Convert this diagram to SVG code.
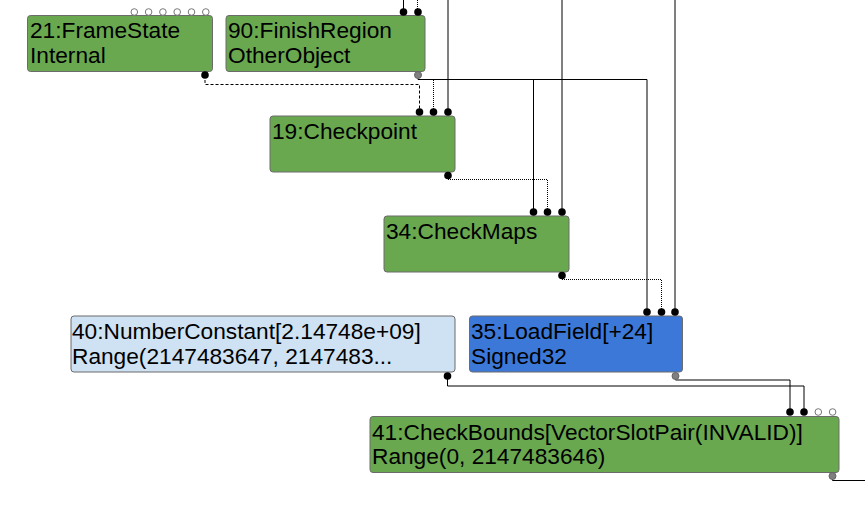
<svg xmlns="http://www.w3.org/2000/svg" width="865" height="506" viewBox="0 0 865 506">
<style>
.box{stroke:#6b6b6b;stroke-width:1}
.g{fill:#6aa84f}
.b{fill:#3c78d8}
.lb{fill:#cfe2f3}
.t{font-family:"Liberation Sans",Arial,sans-serif;font-size:22.7px;fill:#000}
.e{fill:none;stroke:#000;stroke-width:1}
.dash{stroke-dasharray:3,2}
.dot{stroke-dasharray:1,1}
.in{fill:#000}
.open{fill:#fff;stroke:#777;stroke-width:1}
.og{fill:#808080;stroke:#666;stroke-width:1}
</style>
<rect width="865" height="506" fill="#fff"/>
<g id="connectors">
  <path class="e" d="M403.5 0V12"/>
  <path class="e dot" d="M417.5 0V12"/>
  <path class="e" d="M448 0V112"/>
  <path class="e" d="M562 0V212"/>
  <path class="e" d="M675 0V312"/>
  <path class="e dash" d="M205 75V84.5H419.5V112"/>
  <path class="e" d="M418 75V79.5H647V312"/>
  <path class="e" d="M533.5 79.5V212"/>
  <path class="e dot" d="M433.5 80V112"/>
  <path class="e dot" d="M448.5 176V180"/>
  <path class="e dot" d="M448 179.5H547.5"/>
  <path class="e dot" d="M547.5 180V212"/>
  <path class="e dot" d="M562.5 276V280"/>
  <path class="e dot" d="M562 279.5H661.5"/>
  <path class="e dot" d="M661.5 280V312"/>
  <path class="e" d="M675.5 376V380H790V412"/>
  <path class="e" d="M447.5 376V386H804V412"/>
  <path class="e" d="M832.5 476V480.5H865"/>
</g>
<g id="n21">
  <rect class="box g" x="27.5" y="15.5" width="185" height="56" rx="3"/>
  <text class="t" x="30" y="38">21:FrameState</text>
  <text class="t" x="30" y="63">Internal</text>
  <circle class="open" cx="134.3" cy="12" r="3.3"/>
  <circle class="open" cx="148.6" cy="12" r="3.3"/>
  <circle class="open" cx="162.9" cy="12" r="3.3"/>
  <circle class="open" cx="177.2" cy="12" r="3.3"/>
  <circle class="open" cx="191.5" cy="12" r="3.3"/>
  <circle class="open" cx="205.8" cy="12" r="3.3"/>
  <circle class="in" cx="205" cy="75" r="3.8"/>
</g>
<g id="n90">
  <rect class="box g" x="226" y="15.5" width="199" height="56" rx="3"/>
  <text class="t" x="228" y="38">90:FinishRegion</text>
  <text class="t" x="228" y="63">OtherObject</text>
  <circle class="in" cx="403.5" cy="12" r="3.8"/>
  <circle class="in" cx="418" cy="12" r="3.8"/>
  <circle class="og" cx="418" cy="75" r="3.5"/>
</g>
<g id="n19">
  <rect class="box g" x="270" y="116" width="185" height="56" rx="3"/>
  <text class="t" x="272" y="138.5">19:Checkpoint</text>
  <circle class="in" cx="419.5" cy="112" r="3.8"/>
  <circle class="in" cx="433.5" cy="112" r="3.8"/>
  <circle class="in" cx="448" cy="112" r="3.8"/>
  <circle class="in" cx="448" cy="175.5" r="3.8"/>
</g>
<g id="n34">
  <rect class="box g" x="384" y="216" width="185" height="56" rx="3"/>
  <text class="t" x="386" y="238.5">34:CheckMaps</text>
  <circle class="in" cx="533.5" cy="212" r="3.8"/>
  <circle class="in" cx="547.5" cy="212" r="3.8"/>
  <circle class="in" cx="562" cy="212" r="3.8"/>
  <circle class="in" cx="562" cy="275.5" r="3.8"/>
</g>
<g id="n35">
  <rect class="box b" x="469.5" y="316" width="213" height="56" rx="3"/>
  <text class="t" x="471" y="339">35:LoadField[+24]</text>
  <text class="t" x="471" y="363.5">Signed32</text>
  <circle class="in" cx="647" cy="312" r="3.8"/>
  <circle class="in" cx="661.5" cy="312" r="3.8"/>
  <circle class="in" cx="675" cy="312" r="3.8"/>
  <circle class="og" cx="675.5" cy="376" r="3.5"/>
</g>
<g id="n40">
  <rect class="box lb" x="71" y="316" width="384" height="56" rx="3"/>
  <text class="t" x="72" y="339">40:NumberConstant[2.14748e+09]</text>
  <text class="t" x="72" y="363.5">Range(2147483647, 2147483...</text>
  <circle class="in" cx="447.5" cy="376" r="3.8"/>
</g>
<g id="n41">
  <rect class="box g" x="370" y="416.5" width="469" height="56" rx="3"/>
  <text class="t" x="372" y="439.5">41:CheckBounds[VectorSlotPair(INVALID)]</text>
  <text class="t" x="372" y="464">Range(0, 2147483646)</text>
  <circle class="in" cx="790" cy="412" r="3.8"/>
  <circle class="in" cx="804" cy="412" r="3.8"/>
  <circle class="open" cx="818.3" cy="412" r="3.3"/>
  <circle class="open" cx="832.6" cy="412" r="3.3"/>
  <circle class="og" cx="832.5" cy="476" r="3.5"/>
</g>
</svg>
